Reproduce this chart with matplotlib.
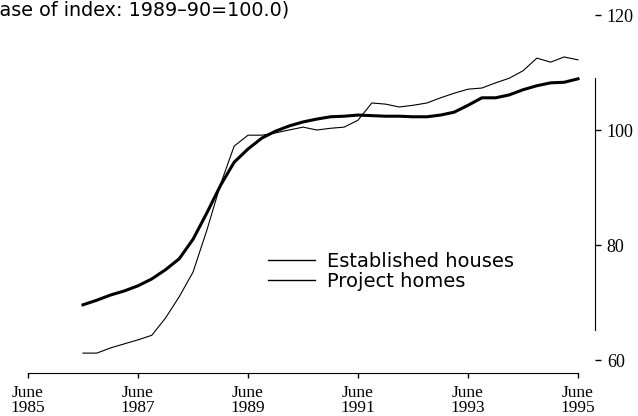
import numpy as np
import pandas as pd
import matplotlib
matplotlib.use("Agg")
import matplotlib.pyplot as plt
import matplotlib.dates as mdates

# Quarterly index, June 1986 - June 1995 (base 1989-90 = 100.0)
quarters = pd.date_range("1986-06-01", "1995-06-01", freq="3MS")
established = [61.2, 61.2, 62.1, 62.8, 63.5, 64.3, 67.3, 71.0, 75.3, 82.6,
               90.6, 97.2, 99.1, 99.1, 99.5, 100.0, 100.5, 100.0, 100.3, 100.5,
               101.7, 104.7, 104.5, 104.0, 104.3, 104.7, 105.6, 106.4, 107.1, 107.3,
               108.2, 109.0, 110.3, 112.5, 111.8, 112.7, 112.2]
project = [69.6, 70.4, 71.3, 72.0, 72.9, 74.1, 75.7, 77.6, 81.0, 85.6,
           90.4, 94.4, 96.7, 98.6, 99.8, 100.7, 101.4, 101.9, 102.3, 102.4,
           102.6, 102.5, 102.4, 102.4, 102.3, 102.3, 102.6, 103.1, 104.3, 105.6,
           105.6, 106.1, 107.0, 107.7, 108.2, 108.3, 108.9]

tick_dates = pd.to_datetime(["1985-06-01", "1987-06-01", "1989-06-01",
                             "1991-06-01", "1993-06-01", "1995-06-01"])
tick_labels = ["June\n1985", "June\n1987", "June\n1989",
               "June\n1991", "June\n1993", "June\n1995"]
y_ticks = [60, 80, 100, 120]

W, H = 638, 416
fig = plt.figure(figsize=(W / 100, H / 100), dpi=100)
ax = fig.add_axes([28 / W, 43 / H, (595 - 28) / W, (373 - 15) / H])

ax.plot(quarters, established, color="black", lw=0.8, label="Established houses")
ax.plot(quarters, project, color="black", lw=2.2, label="Project homes")

ax.set_xlim(pd.Timestamp("1985-06-01"), pd.Timestamp("1995-09-22"))
ax.set_ylim(57.74, 120)

ax.spines["top"].set_visible(False)
ax.spines["left"].set_visible(False)
ax.spines["bottom"].set_bounds(mdates.date2num(tick_dates[0]),
                               mdates.date2num(tick_dates[-1]))
ax.spines["right"].set_bounds(65.2, 109)

ax.yaxis.tick_right()
ax.set_yticks(y_ticks)
ax.set_yticklabels([str(v) for v in y_ticks], family="Liberation Serif", fontsize=13)
ax.tick_params(axis="y", direction="out", length=4.5, pad=4, width=1)

ax.set_xticks(tick_dates)
ax.set_xticklabels(tick_labels, family="Liberation Serif", fontsize=12.5,
                   linespacing=0.9)
ax.tick_params(axis="x", direction="out", length=3.5, pad=5, width=1)

fig.text(-20.6 / W, 1 - 15 / H, "(Base of index: 1989\u201390=100.0)",
         family="DejaVu Sans", fontsize=13.8, va="baseline", ha="left")

ax.legend(loc="upper left", bbox_to_anchor=(268 / W, 1 - 252 / H),
          bbox_transform=fig.transFigure, frameon=False, borderpad=0,
          borderaxespad=0, handlelength=2.4, handletextpad=0.65,
          labelspacing=0.05, prop={"family": "DejaVu Sans", "size": 14})
for h in ax.get_legend().get_lines():
    h.set_linewidth(1.0)

fig.savefig("out.png", dpi=100)
